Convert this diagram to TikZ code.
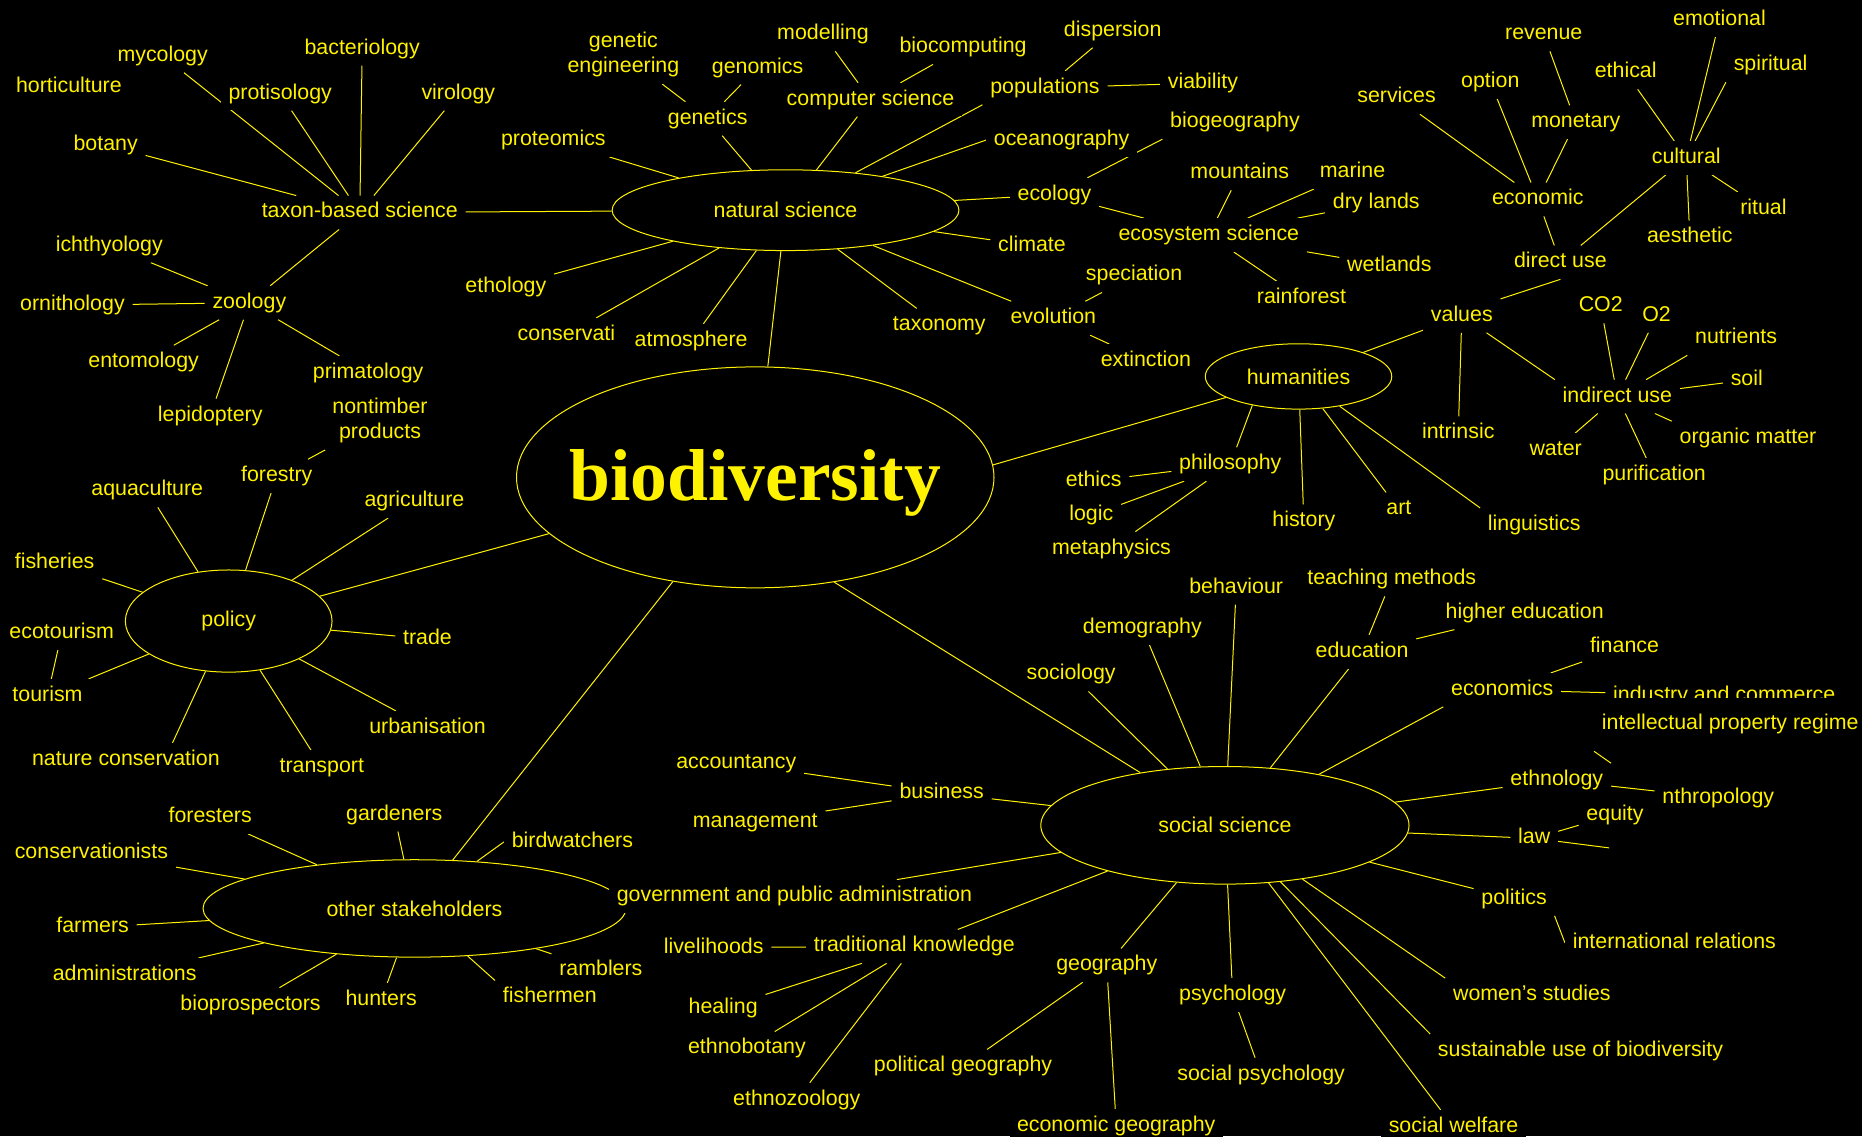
\documentclass[tikz,border=0pt]{standalone}
\usepackage{fontspec}
\setmainfont{Liberation Sans}
\newfontfamily\bioface{Liberation Serif}
\usetikzlibrary{shapes.geometric}
\newcommand\lblsize{\fontsize{12.8}{15}\selectfont}
\pgfdeclarelayer{bg}
\pgfdeclarelayer{links}
\pgfsetlayers{bg,links,main}
\tikzset{
  lbl/.style={fill=black,text=yellow,font=\lblsize,inner xsep=4.5pt,inner ysep=4pt,text height=9.2pt,text depth=2.7pt,yshift=-1.4pt},
  lbltwo/.style={fill=black,text=yellow,font=\lblsize,inner xsep=4.5pt,inner ysep=4pt,align=center,yshift=-1.4pt},
  hub/.style={ellipse,draw=yellow,line width=0.6pt,fill=black,text=yellow,font=\lblsize,inner sep=0pt},
  link/.style={draw=yellow,line width=0.6pt}
}

\begin{document}
\begin{tikzpicture}[x=0.025cm,y=-0.025cm]
    \useasboundingbox (0,0) rectangle (1568,957);
    \begin{pgfonlayer}{bg}
        \fill[black] (0,0) rectangle (1568,957);
    \end{pgfonlayer}

    \node[hub,minimum width=10.05cm,minimum height=4.65cm,
      label={[name=biotext,text=yellow,yshift=-3.5pt,font=\bioface\bfseries\fontsize{44}{50}\selectfont]center:biodiversity}] (bio) at (636,402) {};
    \node[hub,minimum width=7.3cm,minimum height=1.7cm] (nat) at (661.5,177) {natural science};
    \node[hub,minimum width=3.925cm,minimum height=1.375cm] (hum) at (1093.5,317) {humanities};
    \node[hub,minimum width=4.35cm,minimum height=2.15cm] (pol) at (192.6,523) {policy};
    \node[hub,minimum width=7.75cm,minimum height=2.475cm] (soc) at (1031.5,695) {social science};
    \node[hub,minimum width=8.9cm,minimum height=2.05cm] (oth) at (349,765) {other stakeholders};

    \node[lbl] (tax) at (303,177) {taxon-based science};
    \node[lbl] (hor) at (58,71) {horticulture};
    \node[lbl] (myc) at (137,45) {mycology};
    \node[lbl] (bac) at (305,39) {bacteriology};
    \node[lbl] (prs) at (236,77) {protisology};
    \node[lbl] (vir) at (386,77) {virology};
    \node[lbl] (bot) at (89,120) {botany};
    \node[lbl] (zoo) at (210,253) {zoology};
    \node[lbl] (ich) at (92,205) {ichthyology};
    \node[lbl] (orn) at (61,255) {ornithology};
    \node[lbl] (ent) at (121,303) {entomology};
    \node[lbl] (lep) at (177,348) {lepidoptery};
    \node[lbl] (pri) at (310,312) {primatology};

    \node[lbl] (prot) at (466,116) {proteomics};
    \node[lbl] (gen) at (596,98) {genetics};
    \node[lbltwo] (gne) at (525,44) {genetic\\engineering};
    \node[lbl] (gnm) at (638,55) {genomics};
    \node[lbl] (comp) at (733,82) {computer science};
    \node[lbl] (mod) at (693,27) {modelling};
    \node[lbl] (bioc) at (811,38) {biocomputing};
    \node[lbl] (popu) at (880,72) {populations};
    \node[lbl] (disp) at (937,24) {dispersion};
    \node[lbl] (via) at (1013,68) {viability};
    \node[lbl] (bgeo) at (1040,101) {biogeography};
    \node[lbl] (ocn) at (894,116) {oceanography};
    \node[lbl] (eco) at (888,162) {ecology};
    \node[lbl] (esys) at (1018,196) {ecosystem science};
    \node[lbl] (mnt) at (1044,144) {mountains};
    \node[lbl] (mar) at (1139,143) {marine};
    \node[lbl] (dry) at (1159,169) {dry lands};
    \node[lbl] (wet) at (1170,222) {wetlands};
    \node[lbl] (rain) at (1096,249) {rainforest};
    \node[lbl] (clim) at (869,205) {climate};
    \node[lbl] (evo) at (887,266) {evolution};
    \node[lbl] (spec) at (955,230) {speciation};
    \node[lbl] (ext) at (965,302) {extinction};
    \node[lbl] (txn) at (791,272) {taxonomy};
    \node[lbl] (atm) at (582,285) {atmosphere};
    \node[lbl] (cnsv) at (477,280) {conservati};
    \node[lbl] (eth) at (426,240) {ethology};

    \node[lbl] (val) at (1231,264) {values};
    \node[lbl] (dir) at (1314,219) {direct use};
    \node[lbl] (ecn) at (1295,166) {economic};
    \node[lbl] (srv) at (1176,80) {services};
    \node[lbl] (opt) at (1255,67) {option};
    \node[lbl] (mon) at (1327,101) {monetary};
    \node[lbl] (rev) at (1300,27) {revenue};
    \node[lbl] (cul) at (1420,131) {cultural};
    \node[lbl] (ethc) at (1369,59) {ethical};
    \node[lbl] (emo) at (1448,15) {emotional};
    \node[lbl] (spi) at (1491,53) {spiritual};
    \node[lbl] (rit) at (1485,174) {ritual};
    \node[lbl] (aes) at (1423,198) {aesthetic};
    \node[lbl] (int) at (1228,363) {intrinsic};
    \node[lbl] (ind) at (1362,332) {indirect use};
    \node[lbl] (co) at (1348,256) {CO2};
    \node[lbl] (oo) at (1395,264) {O2};
    \node[lbl] (nut) at (1462,283) {nutrients};
    \node[lbl] (soil) at (1471,318) {soil};
    \node[lbl] (org) at (1472,367) {organic matter};
    \node[lbl] (pur) at (1393,398) {purification};
    \node[lbl] (wat) at (1310,377) {water};
    \node[lbl] (phi) at (1036,389) {philosophy};
    \node[lbl] (ethi) at (921,403) {ethics};
    \node[lbl] (log) at (919,432) {logic};
    \node[lbl] (met) at (936,460) {metaphysics};
    \node[lbl] (his) at (1098,437) {history};
    \node[lbl] (art) at (1178,427) {art};
    \node[lbl] (lin) at (1292,440) {linguistics};

    \node[lbltwo] (non) at (320,352) {nontimber\\products};
    \node[lbl] (fst) at (233,399) {forestry};
    \node[lbl] (aqu) at (124,411) {aquaculture};
    \node[lbl] (agr) at (349,420) {agriculture};
    \node[lbl] (fis) at (46,472) {fisheries};
    \node[lbl] (ect) at (52,531) {ecotourism};
    \node[lbl] (tou) at (40,584) {tourism};
    \node[lbl] (tra) at (360,536) {trade};
    \node[lbl] (urb) at (360,611) {urbanisation};
    \node[lbl] (ncn) at (106,638) {nature conservation};
    \node[lbl] (trn) at (271,644) {transport};

    \node[lbl] (frs) at (177,686) {foresters};
    \node[lbl] (gar) at (332,684) {gardeners};
    \node[lbl] (csv) at (77,716) {conservationists};
    \node[lbl] (brd) at (482,707) {birdwatchers};
    \node[lbl] (frm) at (78,779) {farmers};
    \node[lbl] (adm) at (105,819) {administrations};
    \node[lbl] (bpr) at (211,844) {bioprospectors};
    \node[lbl] (hun) at (321,840) {hunters};
    \node[lbl] (fsh) at (463,838) {fishermen};
    \node[lbl] (ram) at (506,815) {ramblers};

    \node[lbl] (bus) at (793,666) {business};
    \node[lbl] (acc) at (620,641) {accountancy};
    \node[lbl] (man) at (636,690) {management};
    \node[lbl] (gov) at (669,753) {government and public administration};
    \node[lbl] (tk) at (770,795) {traditional knowledge};
    \node[lbl] (liv) at (601,796) {livelihoods};
    \node[lbl] (hea) at (609,847) {healing};
    \node[lbl] (ebt) at (629,881) {ethnobotany};
    \node[lbl] (ezo) at (671,924) {ethnozoology};
    \node[lbl] (geo) at (932,811) {geography};
    \node[lbl] (plg) at (811,896) {political geography};
    \node[lbl] (ecg) at (940,946) {economic geography};
    \node[lbl] (psy) at (1038,836) {psychology};
    \node[lbl] (spsy) at (1062,903) {social psychology};
    \node[lbl] (swf) at (1224,947) {social welfare};
    \node[lbl] (sus) at (1331,883) {sustainable use of biodiversity};
    \node[lbl] (wom) at (1290,836) {women's studies};
    \node[lbl] (pols) at (1275,755) {politics};
    \node[lbl] (irl) at (1410,792) {international relations};
    \node[lbl] (law) at (1292,704) {law};
    \node[lbl] (eqt) at (1360,684) {equity};
    \coordinate (lawx) at (1355,714);
    \node[lbl] (etn) at (1311,655) {ethnology};
    \node[lbl] (ant) at (1447,670) {nthropology};
    \node[lbl] (inc) at (1452,584) {industry and commerce};
    \node[lbl,inner ysep=10pt] (ipr) at (1457,608) {intellectual property regime};
    \node[lbl] (ecs) at (1265,579) {economics};
    \node[lbl] (fin) at (1368,543) {finance};
    \node[lbl] (edu) at (1147,547) {education};
    \node[lbl] (tch) at (1172,486) {teaching methods};
    \node[lbl] (hed) at (1284,514) {higher education};
    \node[lbl] (beh) at (1041,493) {behaviour};
    \node[lbl] (dem) at (962,527) {demography};
    \node[lbl] (soci) at (902,566) {sociology};

    \begin{pgfonlayer}{links}
    \begin{scope}[every path/.style={link}]
    \draw (tax) -- (nat);
    \draw (tax) -- (myc);
    \draw (tax) -- (bac);
    \draw (tax) -- (prs);
    \draw (tax) -- (vir);
    \draw (tax) -- (bot);
    \draw (tax) -- (zoo);
    \draw (zoo) -- (ich);
    \draw (zoo) -- (orn);
    \draw (zoo) -- (ent);
    \draw (zoo) -- (lep);
    \draw (zoo) -- (pri);
    \draw (nat) -- (prot);
    \draw (nat) -- (gen);
    \draw (gen) -- (gne);
    \draw (gen) -- (gnm);
    \draw (nat) -- (comp);
    \draw (comp) -- (mod);
    \draw (comp) -- (bioc);
    \draw (nat) -- (popu.south west);
    \draw (popu) -- (disp);
    \draw (popu) -- (via);
    \draw (nat) -- (ocn.west);
    \draw (nat) -- (eco);
    \draw (eco) -- (bgeo.south west);
    \draw (eco) -- (esys);
    \draw (esys) -- (mnt);
    \draw (esys) -- (mar);
    \draw (esys) -- (dry);
    \draw (esys) -- (wet);
    \draw (esys) -- (rain);
    \draw (nat) -- (clim);
    \draw (nat) -- (evo);
    \draw (evo) -- (spec);
    \draw (evo) -- (ext);
    \draw (nat) -- (txn);
    \draw (nat) -- (atm);
    \draw (nat) -- (cnsv);
    \draw (nat) -- (eth);
    \draw (nat) -- (bio);
    \draw (bio.3) -- (hum);
    \draw (hum) -- (val);
    \draw (val.north east) -- (dir.south);
    \draw (dir) -- (ecn);
    \draw (ecn) -- (srv);
    \draw (ecn) -- (opt);
    \draw (ecn) -- (mon);
    \draw (mon) -- (rev);
    \draw (dir) -- (cul);
    \draw (cul) -- (ethc);
    \draw (cul) -- (emo);
    \draw (cul) -- (spi.south west);
    \draw (cul) -- (rit);
    \draw (cul) -- (aes);
    \draw (val) -- (int);
    \draw (val) -- (ind.north west);
    \draw (ind) -- (co);
    \draw (ind) -- (oo);
    \draw (ind) -- (nut.south west);
    \draw (ind) -- (soil);
    \draw (ind) -- (org.north west);
    \draw (ind) -- (pur);
    \draw (ind) -- (wat);
    \draw (hum.-148) -- (phi);
    \draw (phi) -- (ethi);
    \draw (phi) -- (log);
    \draw (phi) -- (met);
    \draw (hum) -- (his);
    \draw (hum) -- (art);
    \draw (hum) -- (lin.north west);
    \draw (bio) -- (pol);
    \draw (pol) -- (fst);
    \draw (fst) -- (non);
    \draw (pol) -- (aqu);
    \draw (pol) -- (agr);
    \draw (pol) -- (fis);
    \draw (pol) -- (tou);
    \draw (tou) -- (ect);
    \draw (pol) -- (tra);
    \draw (pol) -- (urb);
    \draw (pol) -- (ncn.20);
    \draw (pol) -- (trn);
    \draw (bio) -- (oth);
    \draw (oth) -- (frs);
    \draw (oth) -- (gar);
    \draw (oth) -- (csv);
    \draw (oth.37) -- (brd.west);
    \draw (oth) -- (frm);
    \draw (oth) -- (adm);
    \draw (oth) -- (bpr);
    \draw (oth) -- (hun);
    \draw (oth) -- (fsh.north west);
    \draw (oth) -- (ram);
    \draw (bio.-53) -- (soc);
    \draw (soc) -- (bus);
    \draw (bus) -- (acc);
    \draw (bus) -- (man);
    \draw (soc) -- (gov);
    \draw (soc) -- (tk);
    \draw (tk) -- (liv);
    \draw (tk) -- (hea);
    \draw (tk) -- (ebt);
    \draw (tk) -- (ezo);
    \draw (soc) -- (geo);
    \draw (geo) -- (plg);
    \draw (geo) -- (ecg);
    \draw (soc) -- (psy);
    \draw (psy) -- (spsy);
    \draw (soc) -- (swf);
    \draw (soc) -- (sus.north west);
    \draw (soc) -- (wom.north west);
    \draw (soc) -- (pols);
    \draw (pols.south east) -- (irl.west);
    \draw (soc) -- (law);
    \draw (law) -- (eqt);
    \draw (law) -- (lawx);
    \draw (soc) -- (etn);
    \draw (etn.north east) -- (ipr.south west);
    \draw (etn) -- (ant);
    \draw (soc) -- (ecs.south west);
    \draw (ecs) -- (fin);
    \draw (ecs) -- (inc);
    \draw (soc) -- (edu);
    \draw (edu) -- (tch);
    \draw (edu) -- (hed);
    \draw (soc) -- (beh);
    \draw (soc) -- (dem);
    \draw (soc) -- (soci);
    \end{scope}
    \end{pgfonlayer}
\end{tikzpicture}
\end{document}
